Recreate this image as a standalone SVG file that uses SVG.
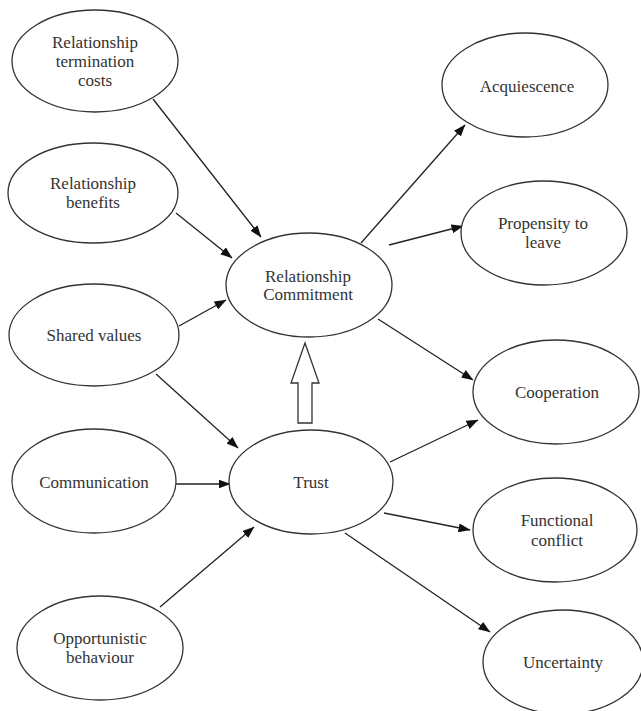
<svg xmlns="http://www.w3.org/2000/svg" width="641" height="711" viewBox="0 0 641 711">
<style>
.node ellipse{fill:#fff;stroke:#333;stroke-width:1.3}
.node text{font-family:"Liberation Serif","Times New Roman",serif;font-size:17px;fill:#333;text-anchor:middle;dominant-baseline:central}
.edges line{stroke:#222;stroke-width:1.3;marker-end:url(#ah)}
</style>
<defs>
<marker id="ah" markerWidth="12" markerHeight="9" refX="11.5" refY="4.5" orient="auto" markerUnits="userSpaceOnUse">
<path d="M0,0 L12,4.5 L0,9 Z" fill="#111"/>
</marker>
</defs>
<rect width="641" height="711" fill="#fff"/>
<g class="edges" id="connectors">
<line x1="153" y1="99" x2="261" y2="237"/>
<line x1="176" y1="213" x2="232" y2="258"/>
<line x1="179" y1="326" x2="226" y2="300"/>
<line x1="156" y1="374" x2="238" y2="448"/>
<line x1="176" y1="484" x2="230" y2="484"/>
<line x1="160" y1="607" x2="254" y2="527"/>
<line x1="361" y1="243" x2="465" y2="125"/>
<line x1="389" y1="245" x2="463" y2="226"/>
<line x1="378" y1="319" x2="473" y2="380"/>
<line x1="390" y1="462" x2="478" y2="420"/>
<line x1="384" y1="513" x2="470" y2="530"/>
<line x1="345" y1="533" x2="490" y2="632"/>
<path d="M305,343 L319,383 L312,383 L312,423 L298,423 L298,383 L291,383 Z" fill="#fff" stroke="#333" stroke-width="1.3"/>
</g>
<g class="node" id="rtc"><ellipse cx="95" cy="61" rx="83" ry="51"/><text x="95" y="42">Relationship</text><text x="95" y="61">termination</text><text x="95" y="80">costs</text></g>
<g class="node" id="rb"><ellipse cx="93" cy="193" rx="85" ry="50"/><text x="93" y="183">Relationship</text><text x="93" y="202">benefits</text></g>
<g class="node" id="sv"><ellipse cx="94" cy="335" rx="85" ry="51"/><text x="94" y="335">Shared values</text></g>
<g class="node" id="comm"><ellipse cx="94" cy="481" rx="82" ry="52"/><text x="94" y="482">Communication</text></g>
<g class="node" id="opp"><ellipse cx="100" cy="648" rx="83" ry="52"/><text x="100" y="638">Opportunistic</text><text x="100" y="657">behaviour</text></g>
<g class="node" id="rc"><ellipse cx="309" cy="285" rx="83" ry="52"/><text x="308" y="276">Relationship</text><text x="308" y="294">Commitment</text></g>
<g class="node" id="trust"><ellipse cx="311" cy="482" rx="82" ry="52"/><text x="311" y="482">Trust</text></g>
<g class="node" id="acq"><ellipse cx="525" cy="85" rx="83" ry="52"/><text x="527" y="86">Acquiescence</text></g>
<g class="node" id="prop"><ellipse cx="544" cy="233" rx="83" ry="52"/><text x="543" y="223">Propensity to</text><text x="543" y="242">leave</text></g>
<g class="node" id="coop"><ellipse cx="556" cy="392" rx="83" ry="52"/><text x="557" y="392">Cooperation</text></g>
<g class="node" id="fc"><ellipse cx="555" cy="530" rx="82" ry="52"/><text x="557" y="520">Functional</text><text x="557" y="540">conflict</text></g>
<g class="node" id="unc"><ellipse cx="563" cy="662" rx="80" ry="52"/><text x="563" y="662">Uncertainty</text></g>
</svg>
